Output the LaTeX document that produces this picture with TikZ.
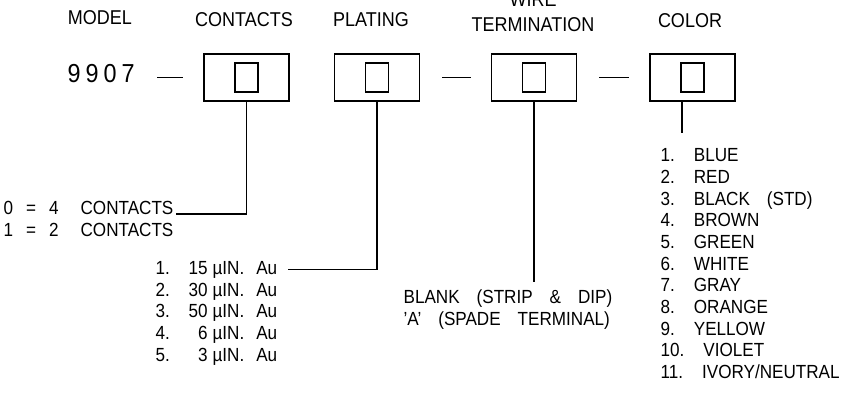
\documentclass[tikz,border=0pt]{standalone}
\usepackage{fontspec}
\setmainfont{Liberation Sans}[FakeStretch=0.9]
\usetikzlibrary{positioning}

\newcommand{\bigsp}{\hspace{17pt}}
\newcommand{\plrow}[2]{\makebox[28pt][l]{#1}\makebox[24pt][r]{#2}\hspace{5pt}µIN.\hspace{12pt}Au}

\begin{document}
\begin{tikzpicture}[x=1pt, y=-1pt, line width=1.2pt,
                    optbox/.style={rectangle, draw, minimum width=85pt, minimum height=47pt},
                    slot/.style={rectangle, draw, minimum width=23pt, minimum height=29pt},
                    hdr/.style={font=\fontsize{20}{25}\selectfont, inner sep=0pt, anchor=base},
                    item/.style={font=\fontsize{19}{21.7}\selectfont, inner sep=0pt, anchor=base west},
                    link/.style={shorten <=22pt, shorten >=20pt}]

  \useasboundingbox (0,0) rectangle (867,393);

  % headings
  \node[hdr] (model-txt) at (100,25)  {MODEL};
  \node[hdr] (cnt-txt)   at (244,27)  {CONTACTS};
  \node[hdr] (pl-txt)    at (371,27)  {PLATING};
  \node[hdr] (wire-txt)  at (533,7)   {WIRE};
  \node[hdr] (wt-txt)    at (533,32)  {TERMINATION};
  \node[hdr] (col-txt)   at (690,28)  {COLOR};

  % part number
  \node[item, font=\fontsize{26}{30}\selectfont] (model-num) at (67,83) {9\kern5pt9\kern5pt0\kern5pt7};

  \node[optbox] (cnt-box) at (246.5,77.5) {};
  \node[slot]   (cnt-slot) at (cnt-box) {};
  \node[optbox] (pl-box)  at (377,77.5) {};
  \node[slot]   (pl-slot)  at (pl-box) {};
  \node[optbox] (wt-box)  at (534,77.5) {};
  \node[slot]   (wt-slot)  at (wt-box) {};
  \node[optbox] (col-box) at (692.5,77.5) {};
  \node[slot]   (col-slot) at (col-box) {};

  \draw[link] (model-num.east |- cnt-box) -- (cnt-box.west);
  \draw[link] (pl-box.east) -- (wt-box.west);
  \draw[link] (wt-box.east) -- (col-box.west);

  % contacts
  \node[item] (cnt-0) at (3,214) {0\hspace{13pt}=\hspace{13pt}4\hspace{22pt}CONTACTS};
  \node[item] (cnt-1) at (3,236) {1\hspace{13pt}=\hspace{13pt}2\hspace{22pt}CONTACTS};
  \draw[shorten >=2pt] (cnt-box.south) |- (cnt-0.base east);

  % plating
  \node[item] (pl-1) at (155,274) {\plrow{1.}{15}};
  \node[item] (pl-2) at (155,296) {\plrow{2.}{30}};
  \node[item] (pl-3) at (155,317) {\plrow{3.}{50}};
  \node[item] (pl-4) at (155,339) {\plrow{4.}{6}};
  \node[item] (pl-5) at (155,361) {\plrow{5.}{3}};
  \draw[shorten >=10pt] (pl-box.south) |- (pl-1.east);

  % wire termination
  \node[item, align=left, anchor=north west] (wt-note) at (403,289)
       {BLANK\bigsp(STRIP\bigsp\&\bigsp DIP)\\'A'\bigsp(SPADE\bigsp TERMINAL)};
  \draw[shorten >=7pt] (wt-box.south) -- (wt-box.south |- wt-note.north);

  % color
  \coordinate (col-tap) at (682,133);
  \node[item, align=left, anchor=north west] (col-list) at (660,148)
       {1.\quad BLUE\\2.\quad RED\\3.\quad BLACK\bigsp(STD)\\4.\quad BROWN\\5.\quad GREEN\\
        6.\quad WHITE\\7.\quad GRAY\\8.\quad ORANGE\\9.\quad YELLOW\\10.\quad VIOLET\\
        11.\quad IVORY/NEUTRAL};
  \draw (col-box.south -| col-tap) -- (col-tap);

\end{tikzpicture}
\end{document}
